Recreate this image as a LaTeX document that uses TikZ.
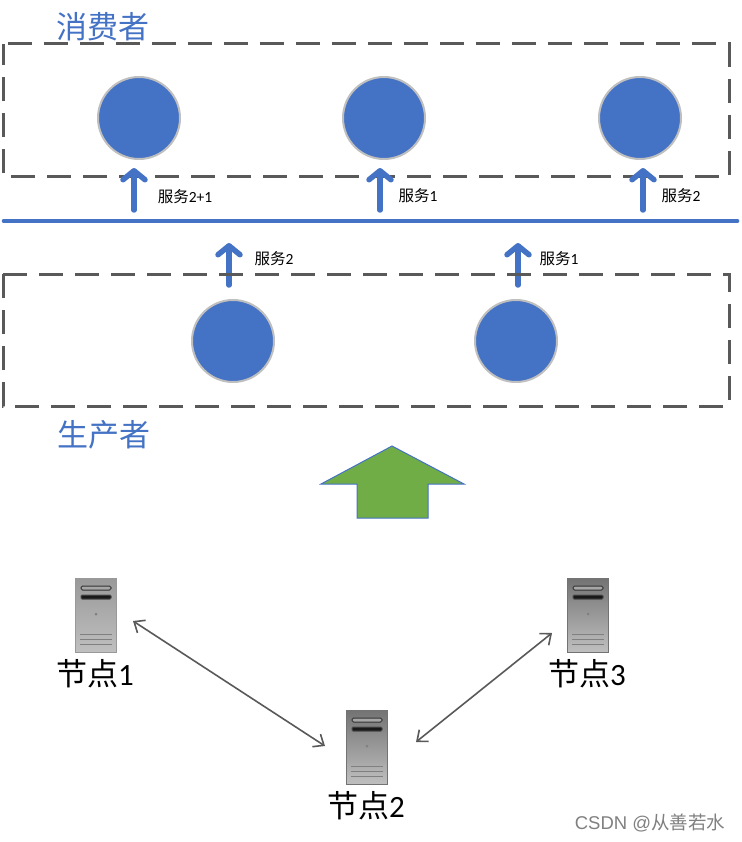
\documentclass[tikz,border=0pt]{standalone}
\usepackage{fontspec}
\setmainfont{Noto Sans CJK SC}
\newfontfamily\dgfont{Carlito}
\newfontfamily\wmfont{Liberation Sans}
\usetikzlibrary{arrows.meta,positioning,calc}
\definecolor{blueA}{HTML}{4472C4}
\definecolor{grayA}{HTML}{595959}
\definecolor{greenA}{HTML}{70AD47}
\begin{document}
\begin{tikzpicture}[
  x=1pt, y=-1pt, >=Stealth,
  group/.style={draw=grayA, line width=3pt, dash pattern=on 24pt off 12pt},
  user/.style={circle, draw=black!25, line width=2pt, fill=blueA, minimum size=82pt, inner sep=0pt},
  flow/.style={draw=blueA, line width=5.5pt, line cap=round, -{Straight Barb[round, length=9pt, width=22pt, line width=5.5pt]}},
  lab/.style={font=\fontsize{15.5}{17}\selectfont, inner sep=0pt},
  title/.style={font=\fontsize{31}{34}\selectfont, text=blueA, inner sep=0pt},
  host/.style={font=\fontsize{31}{34}\selectfont, inner sep=0pt},
  srv/.style={minimum width=41pt, minimum height=74pt, inner sep=0pt, draw=black!#1, line width=.6pt, top color=black!#1, bottom color=black!25},
  link/.style={draw=grayA, line width=1.6pt, <->, >={Straight Barb[length=9pt, width=15pt, line width=1.6pt]}}]
  \useasboundingbox (0,0) rectangle (741,842);
  % consumers
  \draw[group] (8,44) -- (729,44) -- (729,177) -- (3,177) -- (3,44);
  \node[title] (cons) at (103,27) {消费者};
  \node[user] (c1) at (139,118) {};
  \node[user] (c2) at (384,118) {};
  \node[user] (c3) at (640,118) {};
  % bus
  \node[inner sep=0pt] (busL) at (3,221) {};
  \node[inner sep=0pt] (busR) at (738,221) {};
  \draw[blueA, line width=4pt, line cap=round] (busL) -- (busR);
  % service arrows
  \foreach \nam/\xx/\yb/\yt/\txt/\num/\tx/\ty in {a/134/210/168/服务/2+1/185/197, b/380/210/168/服务/1/418/196, c/643/210/168/服务/2/681/196, d/229/285/243/服务/2/274/259, e/518/285/243/服务/1/559/259}{
    \coordinate (\nam0) at (\xx,\yb);
    \coordinate (\nam1) at (\xx,\yt);
    \draw[flow] (\nam0) -- (\nam1);
    \node[lab] (lab\nam) at (\tx,\ty) {\txt{\dgfont\num}};
  }
  % producers
  \draw[group] (3,274) -- (729,274) -- (729,406) -- (3,406) -- cycle;
  \node[title] (prod) at (104,435) {生产者};
  \node[user] (p1) at (233,341) {};
  \node[user] (p2) at (516,341) {};
  % big arrow
  \draw[blueA, line width=1pt, fill=greenA] (392,446) -- (464,484) -- (428,484) -- (428,518) -- (357,518) -- (357,484) -- (321,484) -- cycle;
  % nodes
  \foreach \nam/\xx/\yy/\tone/\num/\ty in {n1/96/615/40/1/674, n2/367/747/55/2/806, n3/588/615/55/3/674}{
    \node[srv=\tone] (\nam) at (\xx,\yy) {};
    \draw[black!80, fill=black!35, line width=1pt, rounded corners=1.5pt] ($(\nam)+(-15,-29)$) rectangle ($(\nam)+(15,-25)$);
    \draw[black!70, fill=black!90, line width=1pt, rounded corners=1pt] ($(\nam)+(-15,-20)$) rectangle ($(\nam)+(15,-16)$);
    \fill[black!50] ($(\nam)+(0,-1)$) circle (1.5);
    \foreach \dy in {19,24,29}
      \draw[black!50, line width=.7pt] ($(\nam)+(-16,\dy)$) -- ($(\nam)+(16,\dy)$);
    \node[host] (lab\nam) at (\xx-1,\ty) {节点{\dgfont\num}};
  }
  \coordinate (n1e) at (133,621);
  \coordinate (n2w) at (325,746);
  \coordinate (n2e) at (416,742);
  \coordinate (n3w) at (552,633);
  \draw[link] (n1e) -- (n2w);
  \draw[link] (n2e) -- (n3w);
  % mark
  \node[font=\fontsize{18.5}{22}\selectfont, text=black!50, inner sep=0pt] (mark) at (650,823) {{\wmfont CSDN @}从善若水};
\end{tikzpicture}
\end{document}
